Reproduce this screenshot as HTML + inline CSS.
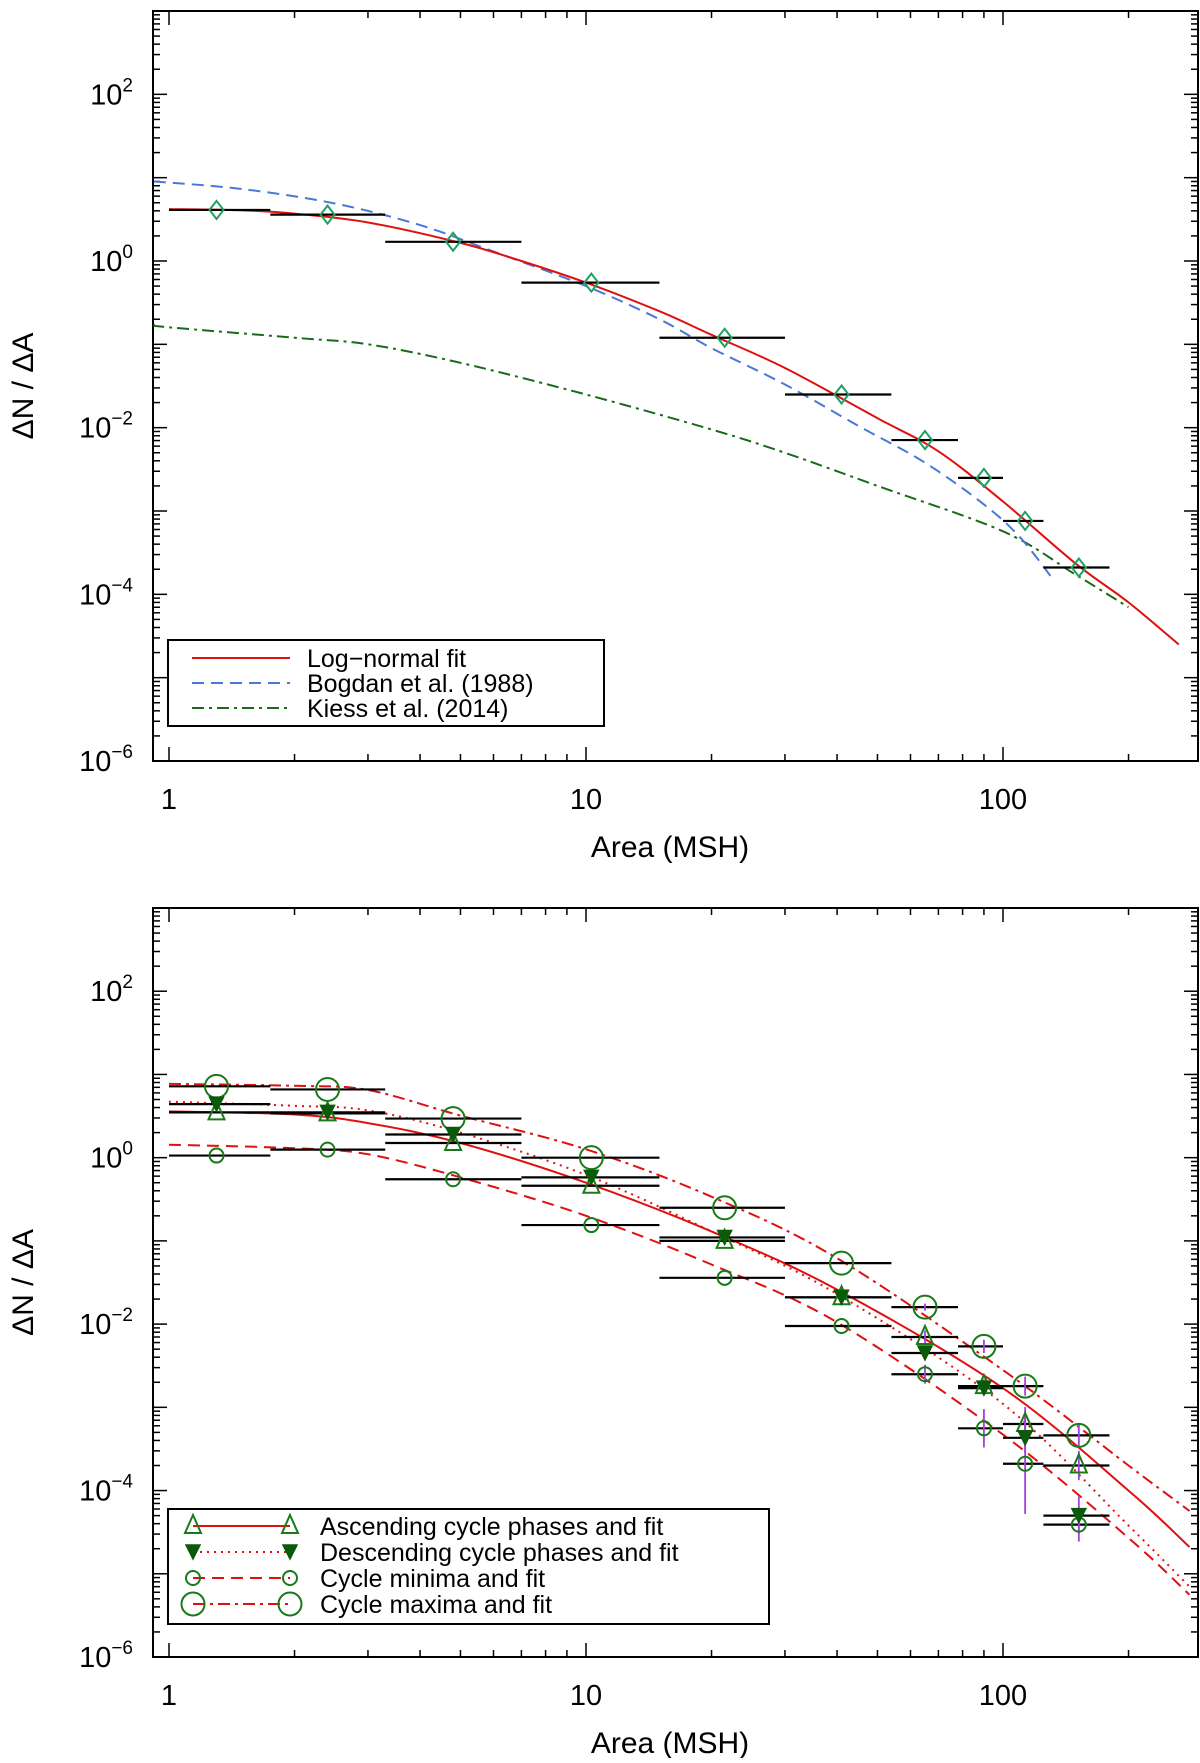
<!DOCTYPE html>
<html><head><meta charset="utf-8"><style>
body{margin:0;background:#fff;}
svg text{font-family:"Liberation Sans",sans-serif;fill:#000;}
</style></head><body>
<svg id="fig" width="1200" height="1758" viewBox="0 0 1200 1758" xmlns="http://www.w3.org/2000/svg"></svg>
<script>
// ---- data: top panel ----
const binLo = [1,1.75,3.3,7,15,30,54,78,100,125];
const binHi = [1.75,3.3,7,15,30,54,78,100,125,180];
const binMid = [1.3,2.4,4.8,10.3,21.5,41,65,90,113,152];
const allY = [4.1,3.6,1.7,0.55,0.12,0.025,0.0071,0.0025,0.00076,0.00021];
const fitX = [1,1.5,2,3,5,7,10,15,20,30,50,70,100,150,200,264];
const fitY = [4.2,4.05,3.7,2.9,1.65,1.0,0.55,0.25,0.13,0.052,0.013,0.0052,0.0013,0.00023,0.00008,0.000025];
const bogX = [0.92,1.5,2.5,4,6,10,15,20,30,45,65,90,110,132];
const bogY = [9,7.3,4.9,2.7,1.3,0.5,0.2,0.09,0.033,0.0105,0.0038,0.0012,0.00048,0.00015];
const kieX = [0.92,1,2,3,5,10,20,30,50,100,150,200];
const kieY = [0.17,0.16,0.12,0.1,0.06,0.025,0.0095,0.005,0.002,0.00057,0.00017,0.00007];
// ---- data: bottom panel ----
const ascY = [3.5,3.4,1.5,0.46,0.1,0.021,0.007,0.0018,0.00063,0.0002];
const desY = [4.4,3.5,1.9,0.58,0.11,0.021,0.0045,0.0017,0.00043,0.00005];
const minY = [1.06,1.25,0.55,0.155,0.036,0.0095,0.0025,0.00056,0.00021,0.000039];
const maxY = [7.2,6.6,2.95,1.0,0.25,0.054,0.016,0.0054,0.0018,0.00046];
const errIdx = [6,7,8,9];
const errMin = [1.3,1.7,4,1.6];
const errMax = [1.1,1.2,1.3,1.4];
const errAsc = [1.2,1.2,1.6,1.5];
const errDes = [1.2,1.2,1.5,1.7];
const fitXb = [1,2,3,5,10,20,40,100,200,280];
const ascFit = [3.6,3.3,2.6,1.5,0.5,0.13,0.026,0.0017,0.0001,0.000021];
const desFit = [4.7,4.2,3.7,2.0,0.62,0.13,0.023,0.0011,0.000038,0.000007];
const minFit = [1.43,1.3,1.1,0.58,0.2,0.052,0.0105,0.00047,0.000027,0.0000056];
const maxFit = [7.7,7.3,6.5,3.2,1.26,0.34,0.062,0.0028,0.0002,0.000057];
const xTicks = [1,10,100];
const yTickExp = [-6,-4,-2,0,2];

const NS="http://www.w3.org/2000/svg";
const svg=document.getElementById('fig');
function el(tag,attrs,parent){const e=document.createElementNS(NS,tag);for(const k in attrs)e.setAttribute(k,attrs[k]);(parent||svg).appendChild(e);return e;}
const L=153,R=1198,X0=169,DEC=417;
function xs(v){return X0+Math.log10(v)*DEC;}
function mkY(top,bot){const d=(bot-top)/9;return v=>bot-(Math.log10(v)+6)*d;}

function panel(top,bot,name){
  const ys=mkY(top,bot);
  const g=el('g',{});
  
  
  const fr=el('rect',{x:L,y:top,width:R-L,height:bot-top,fill:'none',stroke:'#000','stroke-width':2},g);
  
  
  for(let e=0;e<=2;e++)for(let m=1;m<=9;m++){const v=m*Math.pow(10,e);const x=xs(v);if(x>R)continue;const len=m==1?14:7;
    el('line',{x1:x,y1:bot,x2:x,y2:bot-len,stroke:'#000','stroke-width':1.5},g);
    el('line',{x1:x,y1:top,x2:x,y2:top+len,stroke:'#000','stroke-width':1.5},g);}
  for(let e=-6;e<=2;e++)for(let m=1;m<=9;m++){const v=m*Math.pow(10,e);const y=ys(v);if(y<top)continue;const len=m==1?14:7;
    el('line',{x1:L,y1:y,x2:L+len,y2:y,stroke:'#000','stroke-width':1.5},g);
    el('line',{x1:R,y1:y,x2:R-len,y2:y,stroke:'#000','stroke-width':1.5},g);}
  xTicks.forEach(v=>{const t=el('text',{x:xs(v),y:bot+48,'font-size':29,'text-anchor':'middle'},g);t.textContent=v;
    });
  yTickExp.forEach(e=>{const t=el('text',{x:L-20,y:ys(Math.pow(10,e))+10,'font-size':29,'text-anchor':'end'},g);
    
    t.appendChild(document.createTextNode('10'));const s=el('tspan',{dy:-13,'font-size':19},t);s.textContent=(e<0?'\u2212'+(-e):e);});
  const xl=el('text',{x:670,y:bot+96,'font-size':30,'text-anchor':'middle'},g);xl.textContent='Area (MSH)';
  
  const cy=(top+bot)/2;
  const yl=el('text',{x:0,y:0,'font-size':30,'text-anchor':'middle',transform:`translate(33,${cy}) rotate(-90)`},g);yl.textContent='\u0394N / \u0394A';
  
  return ys;
}
function curve(xa,ya,ys,color,dash,name,w){
  const P=xa.map((x,i)=>[xs(x),ys(ya[i])]);
  let d='M'+P[0][0].toFixed(1)+','+P[0][1].toFixed(1);
  for(let i=0;i<P.length-1;i++){
    const p0=P[Math.max(0,i-1)],p1=P[i],p2=P[i+1],p3=P[Math.min(P.length-1,i+2)];
    const c1=[p1[0]+(p2[0]-p0[0])/6,p1[1]+(p2[1]-p0[1])/6];
    const c2=[p2[0]-(p3[0]-p1[0])/6,p2[1]-(p3[1]-p1[1])/6];
    d+=` C${c1[0].toFixed(1)},${c1[1].toFixed(1)} ${c2[0].toFixed(1)},${c2[1].toFixed(1)} ${p2[0].toFixed(1)},${p2[1].toFixed(1)}`;
  }
  const p=el('path',{d:d,fill:'none',stroke:color,'stroke-width':w||2,'stroke-dasharray':dash||'none','stroke-linejoin':'round'});
  
  
}
function bars(yv,ys,name){
  yv.forEach((v,i)=>{const b=el('line',{x1:xs(binLo[i]),x2:xs(binHi[i]),y1:ys(v),y2:ys(v),stroke:'#000','stroke-width':2.2});
    
    });
}
function marker(type,x,y,name){
  let m;
  const c='#1a7a1a';
  if(type=='diamond')m=el('path',{d:`M${x},${y-9}L${x+7},${y}L${x},${y+9}L${x-7},${y}Z`,fill:'none',stroke:'#20a060','stroke-width':2});
  else if(type=='tri')m=el('path',{d:`M${x},${y-11}L${x+8},${y+7}L${x-8},${y+7}Z`,fill:'none',stroke:c,'stroke-width':2});
  else if(type=='tridown')m=el('path',{d:`M${x-7},${y-7}L${x+7},${y-7}L${x},${y+7}Z`,fill:'#0a5a0a',stroke:'#0a5a0a','stroke-width':1.5});
  else if(type=='csmall')m=el('circle',{cx:x,cy:y,r:7,fill:'none',stroke:c,'stroke-width':2});
  else m=el('circle',{cx:x,cy:y,r:11.5,fill:'none',stroke:c,'stroke-width':2});
  
  
}
// ---- top panel ----
const ys1=panel(11,761,'top-panel');
curve(kieX,kieY,ys1,'#1a6a1a','12,5,3,5','kiess-2014-curve');
curve(bogX,bogY,ys1,'#4a78d8','12,7','bogdan-1988-curve');
curve(fitX,fitY,ys1,'#e01010','','log-normal-fit');
bars(allY,ys1,'bin-width-bar');
allY.forEach((v,i)=>marker('diamond',xs(binMid[i]),ys1(v),'data-point'));
(function(){
  const g=el('g',{});
  el('rect',{x:168,y:640,width:436,height:86,fill:'#fff',stroke:'#000','stroke-width':2},g);
  const items=[['Log\u2212normal fit','#e01010','none'],['Bogdan et al. (1988)','#4a78d8','12,7'],['Kiess et al. (2014)','#1a6a1a','12,5,3,5']];
  items.forEach((it,i)=>{const y=658+i*25;
    const l=el('line',{x1:192,x2:290,y1:y,y2:y,stroke:it[1],'stroke-width':2,'stroke-dasharray':it[2]},g);
    
    const t=el('text',{x:307,y:y+9,'font-size':25},g);t.textContent=it[0];
    });
})();
// ---- bottom panel ----
const ys2=panel(908,1657,'bottom-panel');
curve(fitXb,maxFit,ys2,'#e01010','12,5,3,5','cycle-maxima-fit');
curve(fitXb,minFit,ys2,'#e01010','12,7','cycle-minima-fit');
curve(fitXb,desFit,ys2,'#e01010','2,5','descending-fit');
curve(fitXb,ascFit,ys2,'#e01010','','ascending-fit');
[maxY,minY,ascY,desY].forEach(a=>bars(a,ys2,'bin-width-bar'));
errIdx.forEach((i,k)=>{[[minY,errMin[k]],[maxY,errMax[k]],[ascY,errAsc[k]],[desY,errDes[k]]].forEach(s=>{const v=s[0][i],f=s[1];
  const e=el('line',{x1:xs(binMid[i]),x2:xs(binMid[i]),y1:ys2(v*f),y2:ys2(v/f),stroke:'#a040e0','stroke-width':1.8});
  });});
minY.forEach((v,i)=>marker('csmall',xs(binMid[i]),ys2(v),'cycle-minima-point'));
maxY.forEach((v,i)=>marker('cbig',xs(binMid[i]),ys2(v),'cycle-maxima-point'));
ascY.forEach((v,i)=>marker('tri',xs(binMid[i]),ys2(v),'ascending-point'));
desY.forEach((v,i)=>marker('tridown',xs(binMid[i]),ys2(v),'descending-point'));
(function(){
  const g=el('g',{});
  el('rect',{x:168,y:1509,width:601,height:115,fill:'#fff',stroke:'#000','stroke-width':2},g);
  const items=[['Ascending cycle phases and fit','none','tri'],['Descending cycle phases and fit','2,5','tridown'],['Cycle minima and fit','12,7','csmall'],['Cycle maxima and fit','12,5,3,5','cbig']];
  items.forEach((it,i)=>{const y=1526+i*26;
    const l=el('line',{x1:193,x2:290,y1:y,y2:y,stroke:'#e01010','stroke-width':2,'stroke-dasharray':it[1]},g);
    
    marker(it[2],193,y,'legend-marker');marker(it[2],290,y,'legend-marker');
    const t=el('text',{x:320,y:y+9,'font-size':25},g);t.textContent=it[0];
    });
})();
</script>
</body></html>
